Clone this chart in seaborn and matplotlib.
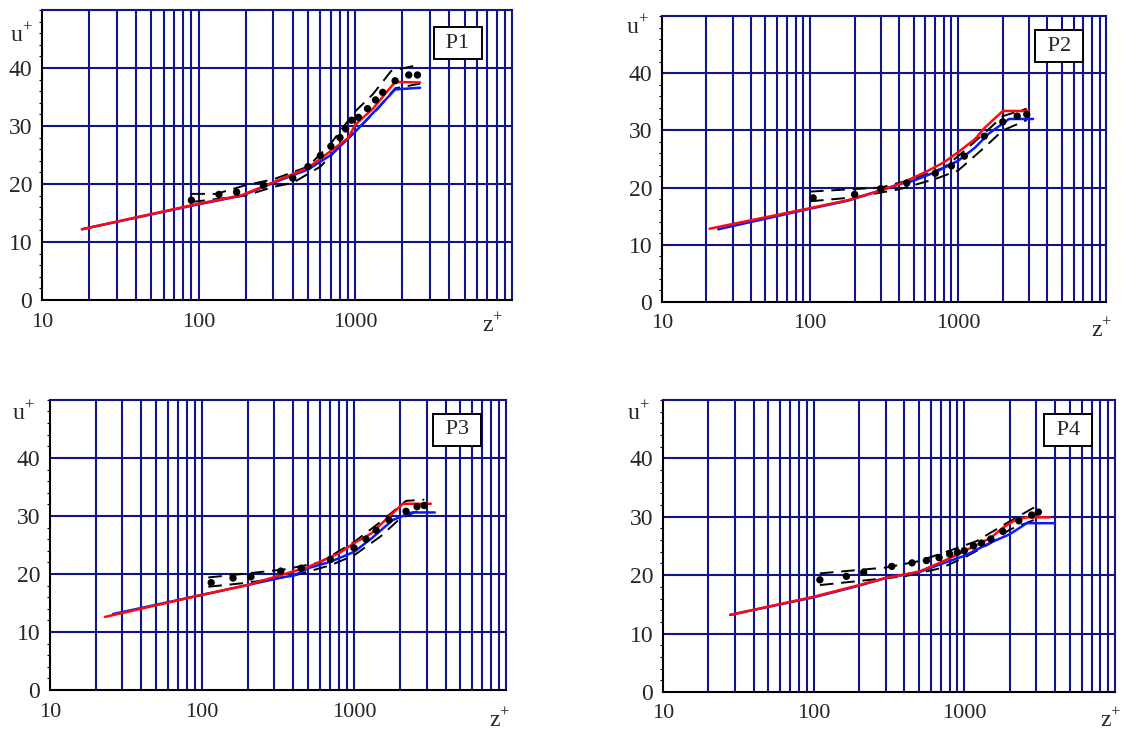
#!/usr/bin/env python3

import matplotlib
matplotlib.use("Agg")
from matplotlib import pyplot as plt
from matplotlib.ticker import FixedLocator, MultipleLocator, NullFormatter
import seaborn as sns

# P1
p1_blue_z = [18, 100, 190, 300, 500, 700, 1000, 1500, 1800, 2600]
p1_blue_u = [12.2, 16.5, 18.0, 20.2, 22.5, 25.0, 29.0, 34.0, 36.3, 36.6]
p1_red_z = [18, 100, 190, 300, 500, 700, 900, 1000, 1300, 1800, 2600]
p1_red_u = [12.2, 16.6, 18.1, 20.3, 22.8, 25.7, 27.9, 30.2, 33.0, 37.6, 37.5]
p1_dot_z = [90, 135, 175, 260, 400, 500, 600, 700, 800, 870, 950, 1050, 1200, 1350, 1500, 1800, 2200, 2500]
p1_dot_u = [17.2, 18.2, 18.6, 19.8, 21.0, 23.0, 24.9, 26.5, 28.0, 29.5, 31.0, 31.5, 33.0, 34.5, 35.8, 37.8, 38.8, 38.8]
p1_up_z = [90, 130, 200, 300, 500, 700, 1000, 1300, 1700, 2500]
p1_up_u = [18.3, 18.3, 19.8, 20.8, 23.0, 27.0, 32.5, 35.5, 39.5, 40.5]
p1_lo_z = [90, 200, 300, 400, 600, 800, 1000, 1400, 1800, 2600]
p1_lo_u = [16.9, 18.0, 19.5, 20.2, 23.0, 26.5, 29.0, 33.0, 36.5, 37.3]

# P2
p2_blue_z = [24, 100, 180, 300, 400, 500, 700, 1000, 1300, 1600, 2200, 3200]
p2_blue_u = [12.7, 16.3, 17.7, 19.5, 20.6, 21.2, 22.7, 24.7, 27.0, 29.4, 32.0, 32.0]
p2_red_z = [21, 100, 180, 300, 400, 600, 800, 1000, 1300, 1500, 2000, 3000]
p2_red_u = [12.8, 16.4, 17.8, 19.5, 20.6, 22.7, 24.4, 26.2, 28.5, 30.4, 33.4, 33.4]
p2_dot_z = [105, 200, 300, 450, 700, 900, 1100, 1500, 2000, 2500, 2900]
p2_dot_u = [18.2, 18.8, 19.8, 20.8, 22.5, 23.8, 25.5, 29.0, 31.5, 32.5, 32.8]
p2_up_z = [100, 300, 500, 800, 1000, 1500, 2000, 2900]
p2_up_u = [19.3, 20.0, 21.5, 23.5, 25.5, 29.5, 32.5, 33.8]
p2_lo_z = [100, 200, 400, 700, 1000, 1500, 2000, 2900]
p2_lo_u = [17.6, 18.3, 19.7, 21.5, 23.0, 27.0, 30.0, 31.8]

# P3
p3_blue_z = [26, 100, 200, 350, 400, 500, 700, 1000, 1300, 1800, 2400, 3400]
p3_blue_u = [13.1, 16.4, 18.1, 19.5, 19.7, 21.0, 22.1, 23.8, 26.1, 29.3, 30.6, 30.6]
p3_red_z = [23, 100, 200, 350, 500, 800, 1000, 1300, 1700, 2100, 3200]
p3_red_u = [12.6, 16.4, 18.1, 20.0, 21.2, 23.6, 25.3, 27.0, 29.9, 32.1, 32.1]
p3_dot_z = [115, 160, 210, 330, 450, 700, 1000, 1200, 1400, 1700, 2200, 2600, 2900]
p3_dot_u = [18.5, 19.3, 19.5, 20.5, 21.0, 22.5, 24.5, 26.0, 27.5, 29.3, 30.8, 31.6, 31.8]
p3_up_z = [110, 200, 350, 600, 1000, 1500, 2200, 2900]
p3_up_u = [19.4, 20.1, 20.8, 22.0, 25.5, 29.0, 32.6, 32.8]
p3_lo_z = [110, 200, 400, 700, 1000, 1500, 2000, 2700]
p3_lo_u = [17.8, 18.5, 19.7, 21.5, 23.2, 26.5, 29.5, 31.0]

# P4
p4_blue_z = [28, 100, 200, 300, 500, 700, 1000, 1500, 2000, 2600, 4000]
p4_blue_u = [13.2, 16.2, 18.2, 19.5, 20.5, 21.9, 23.3, 25.6, 27.0, 28.9, 28.9]
p4_red_z = [28, 100, 200, 300, 500, 700, 1000, 1500, 1800, 2200, 2600, 3700]
p4_red_u = [13.2, 16.3, 18.3, 19.5, 20.6, 22.2, 24.1, 26.4, 28.1, 29.5, 29.9, 29.9]
p4_dot_z = [110, 165, 215, 330, 450, 560, 680, 800, 900, 1000, 1150, 1300, 1500, 1800, 2300, 2800, 3100]
p4_dot_u = [19.2, 19.8, 20.5, 21.5, 22.1, 22.5, 23.0, 23.6, 23.9, 24.2, 25.0, 25.5, 26.2, 27.5, 29.3, 30.3, 30.8]
p4_up_z = [110, 200, 300, 500, 800, 1200, 2000, 3000]
p4_up_u = [20.3, 20.9, 21.3, 22.4, 24.2, 25.8, 29.2, 31.8]
p4_lo_z = [110, 200, 400, 700, 1000, 1500, 2000, 3000]
p4_lo_u = [18.3, 19.0, 19.8, 21.2, 23.0, 25.5, 27.8, 29.6]

panels = [
        ("P1", p1_blue_z, p1_blue_u, p1_red_z, p1_red_u, p1_dot_z, p1_dot_u,
         p1_up_z, p1_up_u, p1_lo_z, p1_lo_u),
        ("P2", p2_blue_z, p2_blue_u, p2_red_z, p2_red_u, p2_dot_z, p2_dot_u,
         p2_up_z, p2_up_u, p2_lo_z, p2_lo_u),
        ("P3", p3_blue_z, p3_blue_u, p3_red_z, p3_red_u, p3_dot_z, p3_dot_u,
         p3_up_z, p3_up_u, p3_lo_z, p3_lo_u),
        ("P4", p4_blue_z, p4_blue_u, p4_red_z, p4_red_u, p4_dot_z, p4_dot_u,
         p4_up_z, p4_up_u, p4_lo_z, p4_lo_u),
        ]

# axes rectangles and label spots (figure / axes fractions)
rects = [
        [0.0367, 0.5896, 0.411, 0.3967],
        [0.579, 0.587, 0.389, 0.391],
        [0.0437, 0.056, 0.399, 0.397],
        [0.580, 0.0534, 0.3955, 0.3995],
        ]
box_pos = [(0.885, 0.886), (0.894, 0.895), (0.893, 0.897), (0.896, 0.897)]
u_pos = [(-0.043, 0.914), (-0.054, 0.96), (-0.059, 0.955), (-0.055, 0.955)]
z_pos = [(0.96, -0.086), (0.99, -0.098), (0.987, -0.103), (0.99, -0.096)]

NAVY = "#14148a"


def main():
    sns.set_style("white")
    plt.rcParams["font.family"] = ["Liberation Serif", "DejaVu Serif"]
    plt.rcParams["mathtext.fontset"] = "custom"
    plt.rcParams["mathtext.rm"] = "Liberation Serif"

    fig = plt.figure(figsize=(11.43, 7.31), dpi=100)

    for k, p in enumerate(panels):
        name, bz, bu, rz, ru, dz, du, uz, uu, lz, lu = p
        ax = fig.add_axes(rects[k])
        ax.set_xscale("log")
        ax.set_xlim(10, 10000)
        ax.set_ylim(0, 50)

        minors = [m * d for d in (10, 100, 1000) for m in range(2, 10)]
        ax.xaxis.set_major_locator(FixedLocator([10, 100, 1000]))
        ax.xaxis.set_minor_locator(FixedLocator(minors))
        ax.xaxis.set_minor_formatter(NullFormatter())
        ax.set_xticklabels(["10", "100", "1000"])
        ax.yaxis.set_major_locator(FixedLocator([0, 10, 20, 30, 40]))
        ax.yaxis.set_minor_locator(MultipleLocator(2))
        ax.tick_params(axis="x", which="major", labelsize=16, length=0, pad=9)
        ax.tick_params(axis="y", which="major", labelsize=17, length=0, pad=7)
        ax.tick_params(axis="x", which="minor", length=0)
        ax.tick_params(axis="y", which="minor", length=2, width=0.8, left=True,
                       color="black")

        for v in [100, 1000] + minors:
            ax.axvline(v, color=NAVY, lw=1.5, zorder=1)
        for v in [10, 20, 30, 40]:
            ax.axhline(v, color=NAVY, lw=1.5, zorder=1)

        for side in ("top", "right"):
            ax.spines[side].set_color(NAVY)
            ax.spines[side].set_linewidth(1.5)
        for side in ("left", "bottom"):
            ax.spines[side].set_color("black")
            ax.spines[side].set_linewidth(1.5)

        sns.lineplot(x=uz, y=uu, ax=ax, color="black", lw=1.4,
                     dashes=[(7, 4)], style=[0] * len(uz), legend=False, zorder=3)
        sns.lineplot(x=lz, y=lu, ax=ax, color="black", lw=1.4,
                     dashes=[(7, 4)], style=[0] * len(lz), legend=False, zorder=3)
        sns.lineplot(x=bz, y=bu, ax=ax, color="#0a1aff", lw=1.8, zorder=4)
        sns.lineplot(x=rz, y=ru, ax=ax, color="#ff0a0a", lw=1.8, zorder=5)
        sns.scatterplot(x=dz, y=du, ax=ax, color="black", s=28,
                        edgecolor="none", zorder=6)

        ax.text(box_pos[k][0], box_pos[k][1], " " + name + " ",
                transform=ax.transAxes, ha="center", va="center", fontsize=16,
                zorder=7,
                bbox=dict(boxstyle="square,pad=0.3", fc="white", ec="black",
                          lw=1.4))
        ax.text(u_pos[k][0], u_pos[k][1], r"$\mathrm{u}^{+}$",
                transform=ax.transAxes, ha="center", va="center", fontsize=17)
        ax.text(z_pos[k][0], z_pos[k][1], r"$\mathrm{z}^{+}$",
                transform=ax.transAxes, ha="center", va="center", fontsize=17)
        ax.set_xlabel("")
        ax.set_ylabel("")

    fig.savefig("out.png", dpi=100)


if __name__ == "__main__":
    main()
